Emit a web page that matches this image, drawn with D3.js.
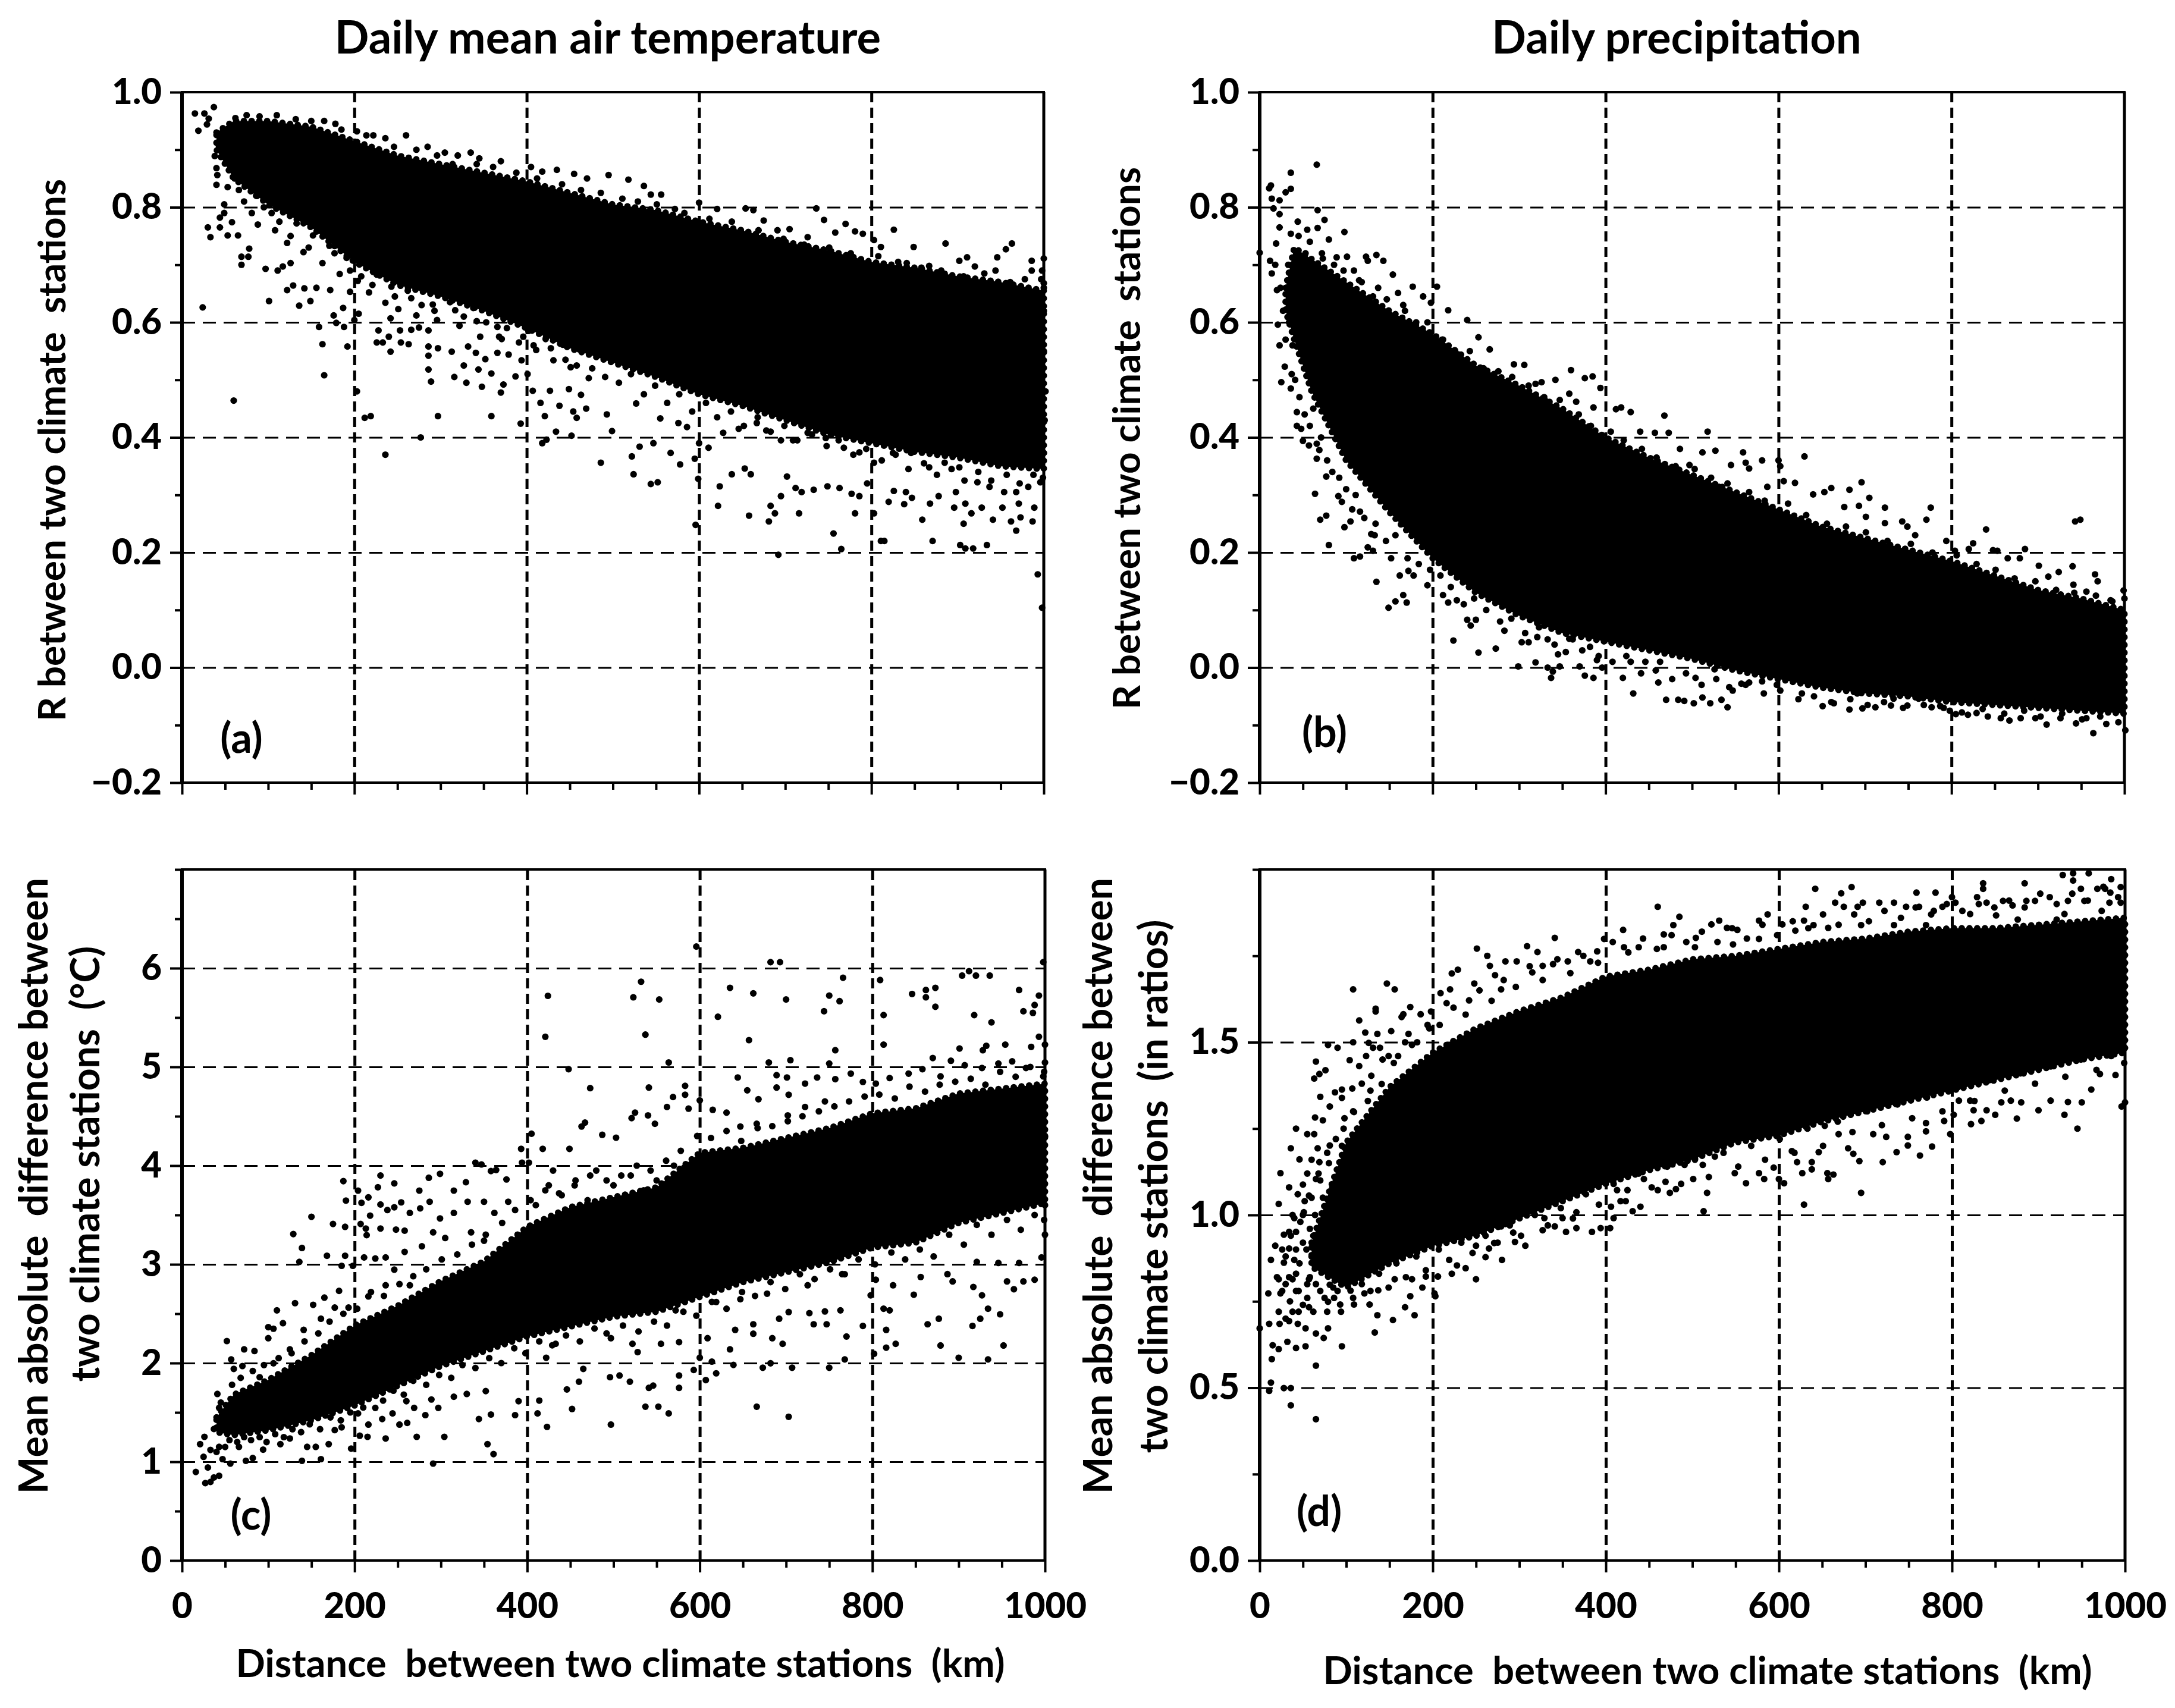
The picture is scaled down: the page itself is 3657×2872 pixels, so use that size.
<!DOCTYPE html>
<html lang="en">
<head>
<meta charset="UTF-8">
<title>Correlation and difference between climate stations</title>
<script src="https://d3js.org/d3.v7.min.js"></script>
<style>
  html, body { margin: 0; background: #fff; }
  text { font-family: Lato, "Open Sans", sans-serif; font-weight: 700; fill: #000; white-space: pre; }
  .domain { display: none; }
  .tick line { stroke: #000; stroke-width: 4px; }
  .tick text { font-size: 60px; font-weight: 900; }
  .grid-x .tick line { stroke-width: 5px; stroke-dasharray: 17 9; }
  .grid-y .tick line { stroke-width: 3px; stroke-dasharray: 22 13; }
</style>
</head>
<body>
<svg id="chart" width="3657" height="2872"></svg>
<script>
// distance ticks shared by all panels
const distMajor = [0, 200, 400, 600, 800, 1000];
const distMinor = [50, 100, 150, 250, 300, 350, 450, 500, 550, 650, 700, 750, 850, 900, 950];
const distGrid = [200, 400, 600, 800];

const rMajor = [-0.2, 0, 0.2, 0.4, 0.6, 0.8, 1];
const rMinor = [-0.1, 0.1, 0.3, 0.5, 0.7, 0.9];
const rGrid = [0, 0.2, 0.4, 0.6, 0.8];
const tempMajor = [0, 1, 2, 3, 4, 5, 6];
const tempMinor = [0.5, 1.5, 2.5, 3.5, 4.5, 5.5, 6.5, 7];
const tempGrid = [1, 2, 3, 4, 5, 6];
const ratioMajor = [0, 0.5, 1, 1.5];
const ratioMinor = [0.25, 0.75, 1.25, 1.75, 2];
const ratioGrid = [0.5, 1, 1.5];

// The clouds hold thousands of overlapping dots. Where they merge into solid black
// the cloud is kept as a band (distance, lower edge, upper edge);
// the dots listed after each band are the separate ones read around and outside it.
const coreDistA = [40, 60, 100, 150, 200, 250, 300, 350, 400, 450, 500, 550, 600, 650, 700, 750, 800, 850, 900, 950, 1000];
const coreLowA = [0.90, 0.85, 0.805, 0.765, 0.705, 0.665, 0.645, 0.62, 0.59, 0.555, 0.53, 0.505, 0.475, 0.455, 0.43, 0.405, 0.39, 0.375, 0.365, 0.35, 0.345];
const coreHighA = [0.93, 0.95, 0.95, 0.94, 0.915, 0.89, 0.875, 0.86, 0.845, 0.825, 0.805, 0.795, 0.775, 0.76, 0.74, 0.725, 0.705, 0.695, 0.68, 0.67, 0.655];
const dotsA = [[15,.963],[19,.933],[26,.963],[37,.974],[31,.954],[29,.944],[24,.626],[60,.464],[165,.508],[163,.562],[159,.592],[192,.558],[203,.48],[212,.434],[219,.437],[277,.4],[236,.37],[297,.437],[359,.437],[393,.424],[418,.39],[423,.396],[434,.41],[452,.403],[101,.637],[136,.629],[149,.637],[122,.656],[129,.664],[142,.659],[156,.66],[172,.656],[195,.653],[97,.693],[111,.69],[117,.697],[126,.703],[69,.7],[69,.714],[77,.714],[78,.728],[30,.765],[33,.748],[44,.765],[53,.751],[65,.751],[58,.774],[44,.782],[49,.79],[49,.805],[40,.839],[53,.835],[38,.889],[40,.868],[41,.856],[176,.612],[179,.599],[188,.592],[200,.604],[187,.625],[205,.615],[228,.586],[226,.565],[233,.565],[242,.549],[240,.575],[254,.565],[263,.562],[253,.586],[266,.587],[275,.591],[242,.607],[286,.586],[286,.558],[286,.542],[286,.518],[289,.497],[316,.505],[330,.495],[327,.525],[344,.518],[359,.511],[348,.488],[370,.478],[373,.492],[387,.506],[297,.555],[313,.549],[332,.558],[341,.547],[352,.536],[366,.547],[379,.544],[394,.534],[401,.51],[407,.481],[416,.46],[421,.437],[427,.481],[438,.455],[454,.445],[458,.434],[449,.484],[463,.474],[469,.45],
[108,.76],[122,.738],[133,.772],[141,.722],[152,.751],[163,.703],[171,.733],[183,.684],[191,.712],[204,.672],[212,.704],[217,.652],[226,.683],[236,.634],[243,.662],[251,.623],[257,.671],[266,.642],[272,.612],[281,.662],[291,.631],[296,.604],[306,.652],[317,.621],[322,.594],[331,.641],[342,.602],[346,.575],[356,.623],[366,.592],[371,.571],[382,.603],[391,.565],[402,.585],[411,.552],[422,.571],[431,.534],[442,.561],[451,.522],[461,.553],[472,.503],
[62,.955],[75,.96],[90,.958],[110,.96],[132,.953],[150,.95],[165,.95],[178,.945],[203,.932],[222,.925],[236,.92],[260,.925],[285,.905],[305,.895],[320,.89],[335,.895],[345,.885],[370,.88],[405,.87],[418,.862],[435,.865],[455,.858],[470,.85],[495,.856],[518,.848],[536,.837],[556,.822],[600,.808],[654,.798],[736,.798],[745,.778],[770,.771],[781,.758],[826,.761],[849,.731],[886,.737],[963,.737],[956,.727],[946,.713],[1000,.711],[986,.707],[911,.713],[902,.707],[920,.697],[944,.69],[867,.698],[841,.703],[803,.743],[811,.731],[790,.754],[758,.756],[726,.748],[705,.762],[691,.76],[675,.777],[663,.795],[621,.797],[572,.797],[544,.822],
[486,.356],[522,.367],[531,.384],[524,.336],[544,.319],[552,.322],[547,.39],[567,.373],[578,.353],[595,.363],[599,.328],[596,.248],[622,.281],[624,.315],[638,.336],[653,.346],[660,.336],[658,.264],[681,.254],[683,.281],[688,.268],[692,.196],[695,.298],[702,.332],[716,.268],[712,.312],[719,.305],[733,.309],[756,.233],[765,.206],[781,.268],[749,.315],[763,.312],[777,.302],[786,.298],[795,.32],[803,.268],[811,.22],[815,.22],[820,.288],[826,.307],[840,.305],[847,.295],[838,.284],[859,.257],[868,.285],[871,.22],[878,.298],[896,.278],[898,.305],[907,.25],[903,.213],[909,.207],[918,.207],[934,.213],[916,.268],[909,.285],[928,.278],[941,.257],[952,.278],[962,.254],[968,.238],[973,.261],[987,.254],[989,.278],[971,.285],[993,.162],[998,.104],
[499,.411],[493,.44],[527,.459],[555,.433],[576,.425],[586,.418],[600,.39],[611,.382],[628,.408],[646,.415],[667,.425],[678,.412],[695,.395],[709,.395],[726,.408],[747,.399],[768,.382],[786,.374],[803,.356],[825,.373],[846,.373],[867,.348],[885,.356],[902,.348],[923,.322],[937,.314],[954,.305],[968,.305],[982,.314],[996,.322],[1000,.373],[1000,.55],[1000,.62],[1002,.48],[1001,.43],[1000,.66],[998,.69],[986,.69],[1000,.668],[971,.643],[937,.647],[902,.664],[877,.656],[853,.664],[832,.69],
[48,.92],[52,.89],[57,.87],[43,.905],[66,.83],[72,.81],[81,.79],[88,.77],[95,.8],[74,.86],[61,.85],[86,.82],[104,.79],[113,.775],[126,.75],[139,.785],[147,.73],[158,.775],[169,.755],[177,.72],[186,.74],[195,.69],[208,.68],[221,.665],[231,.69],[247,.645],[262,.655],[278,.63],[293,.62],[311,.635],[327,.61],[338,.625],[353,.6],[368,.575],[377,.59],[396,.575],[408,.56],[428,.555],[445,.535],[458,.525],[476,.52],[491,.505],[507,.495],[521,.51],[536,.475],[549,.49],[563,.46],[577,.475],[592,.445],[608,.46],[621,.435],[637,.445],[652,.42],[668,.435],[683,.41],[699,.42],[714,.395],[731,.405],[748,.385],[762,.395],[779,.37],[794,.38],[812,.36],[828,.37],[843,.345],[861,.355],[876,.335],[893,.345],[908,.325],[924,.34],[939,.325],[957,.335],[972,.32],[988,.335],[999,.33],
[185,.935],[214,.925],[246,.905],[272,.9],[296,.89],[314,.875],[342,.875],[361,.87],[388,.86],[412,.85],[441,.84],[463,.83],[486,.825],[511,.815],[529,.81],[551,.805],[583,.79],[612,.78],[638,.775],[669,.76],[698,.745],[722,.735],[751,.73],[776,.72],[808,.715],[831,.705],[858,.695],[881,.69],[907,.68],[931,.685],[961,.67],[978,.675],[997,.675]];

const coreDistB = [30, 40, 60, 100, 150, 200, 250, 300, 350, 400, 450, 500, 550, 600, 650, 700, 750, 800, 850, 900, 950, 1000];
const coreLowB = [0.62, 0.57, 0.48, 0.36, 0.27, 0.19, 0.13, 0.09, 0.06, 0.045, 0.03, 0.015, -0.005, -0.02, -0.035, -0.045, -0.05, -0.06, -0.065, -0.07, -0.075, -0.08];
const coreHighB = [0.66, 0.73, 0.71, 0.67, 0.62, 0.58, 0.525, 0.49, 0.45, 0.40, 0.365, 0.335, 0.305, 0.275, 0.245, 0.225, 0.205, 0.185, 0.16, 0.135, 0.12, 0.10];
const dotsB = [[0,.721],[12,.707],[13,.838],[11,.833],[14,.815],[23,.812],[30,.826],[36,.832],[36,.86],[66,.874],[16,.798],[23,.788],[67,.795],[75,.778],[67,.764],[98,.757],[80,.744],[44,.775],[55,.761],[36,.754],[23,.765],[19,.737],[14,.685],[20,.656],[21,.596],[23,.56],[30,.57],[25,.496],[29,.523],[36,.485],[37,.51],[43,.444],[43,.42],[48,.415],[50,.394],[57,.386],[66,.389],[66,.363],[69,.378],[77,.332],[64,.302],[70,.257],[77,.264],[80,.213],[91,.298],[95,.288],[98,.244],[105,.254],[107,.275],[116,.271],[109,.19],[116,.193],[125,.209],[129,.232],[135,.149],[133,.23],[131,.203],[149,.104],[157,.115],[166,.126],[170,.113],[162,.16],[172,.168],[152,.19],[178,.16],[194,.143],[224,.047],[253,.026],[273,.033],[218,.113],[228,.117],[240,.083],[244,.073],[250,.083],[212,.126],[283,.064],[299,.002],[303,.044],[319,.009],[311,.044],[333,0],[337,-.018],[339,-.007],[347,.002],[345,.023],[354,.027],[370,.002],[376,-.014],[386,-.018],[390,.013],[396,0],[362,.049],[382,.036],[333,.049],[321,.053],
[123,.714],[125,.707],[135,.717],[143,.707],[154,.683],[101,.714],[89,.713],[177,.662],[205,.662],[189,.645],[198,.634],[218,.621],[240,.604],[253,.574],[266,.553],[294,.527],[306,.526],[326,.496],[342,.5],[360,.517],[376,.503],[385,.506],[394,.486],[358,.476],[366,.462],[319,.493],[271,.51],[283,.493],[343,.449],[386,.452],[331,.463],[230,.544],[212,.57],[160,.651],[166,.63],[137,.66],[109,.69],[115,.673],[73,.711],[53,.72],
[412,.449],[418,.452],[429,.444],[468,.438],[473,.408],[518,.41],[457,.408],[440,.41],[486,.38],[527,.377],[512,.374],[559,.374],[562,.356],[600,.36],[602,.35],[630,.367],[581,.36],[545,.352],[566,.346],[661,.312],[696,.322],[682,.309],[705,.295],[693,.281],[723,.278],[776,.278],[723,.251],[771,.257],[743,.254],[701,.262],[676,.279],[840,.24],[943,.254],[949,.257],[794,.22],[825,.216],[885,.206],[848,.204],[820,.206],[853,.203],[940,.176],[901,.177],[879,.19],[966,.162],[969,.15],[924,.166],[865,.19],[999,.134],[984,.117],[956,.132],[941,.144],[912,.158],[640,.301],[606,.324],[619,.321],[587,.314],[531,.314],[497,.352],[653,.305],[749,.245],[758,.23],[804,.203],
[432,-.045],[461,-.026],[470,-.056],[484,-.056],[491,-.058],[502,-.062],[512,-.052],[521,-.062],[534,-.056],[541,-.069],[543,-.034],[557,-.028],[566,-.026],[420,-.018],[504,-.018],[598,-.03],[627,-.045],[651,-.067],[664,-.062],[682,-.073],[697,-.071],[712,-.069],[730,-.066],[749,-.066],[777,-.069],[798,-.075],[805,-.081],[819,-.082],[842,-.085],[857,-.088],[867,-.092],[880,-.088],[910,-.099],[944,-.097],[964,-.114],[979,-.098],[1001,-.109],[956,-.088],[926,-.088],[897,-.088],[829,-.079],[787,-.067],[762,-.054],[733,-.054],[691,-.045],[669,-.037],[615,-.011],[581,-.024],[526,-.003],[463,.01],[446,.01],[429,.01],
[18,.7],[24,.66],[27,.62],[31,.66],[34,.6],[38,.56],[33,.7],[41,.5],[46,.47],[52,.44],[58,.42],[62,.45],[71,.4],[78,.36],[84,.34],[92,.33],[100,.31],[111,.3],[121,.26],[134,.25],[146,.22],[157,.23],[171,.19],[184,.18],[197,.17],[209,.16],[221,.14],[236,.11],[248,.12],[262,.1],[278,.08],[291,.085],[307,.06],[323,.07],[341,.04],[358,.05],[373,.03],[392,.02],[408,.01],[424,.02],[441,-.01],[458,-.005],[477,-.02],[493,-.01],[511,-.03],[528,-.02],[547,-.04],[562,-.03],[583,-.045],[602,-.04],[623,-.055],[641,-.05],[661,-.06],[683,-.055],[703,-.065],[722,-.06],[744,-.07],[768,-.065],[791,-.07],[812,-.078],[836,-.072],[861,-.08],[884,-.075],[903,-.085],[928,-.08],[951,-.09],[972,-.085],[993,-.095],
[45,.75],[58,.74],[72,.72],[86,.7],[97,.69],[118,.67],[131,.645],[147,.64],[168,.62],[181,.6],[194,.6],[211,.57],[226,.55],[243,.55],[259,.52],[276,.515],[292,.505],[311,.49],[329,.47],[347,.465],[369,.44],[383,.42],[406,.41],[421,.395],[442,.38],[459,.365],[481,.35],[503,.345],[522,.33],[541,.32],[566,.305],[584,.29],[611,.285],[632,.265],[656,.25],[678,.245],[701,.235],[726,.22],[753,.215],[778,.2],[806,.195],[829,.18],[851,.17],[873,.155],[897,.15],[921,.135],[942,.13],[967,.125],[986,.115],[1000,.12]];

const coreDistC = [40, 60, 100, 150, 200, 250, 300, 350, 400, 450, 500, 550, 600, 650, 700, 750, 800, 850, 900, 950, 1000];
const coreLowC = [1.3, 1.27, 1.32, 1.42, 1.57, 1.77, 1.97, 2.12, 2.27, 2.37, 2.47, 2.52, 2.67, 2.82, 2.92, 3.02, 3.17, 3.22, 3.42, 3.52, 3.62];
const coreHighC = [1.45, 1.68, 1.83, 2.08, 2.38, 2.58, 2.83, 3.03, 3.38, 3.58, 3.68, 3.78, 4.13, 4.18, 4.28, 4.38, 4.53, 4.58, 4.73, 4.78, 4.83];
const dotsC = [[16,.897],[27,.784],[33,.796],[37,.841],[43,.858],[30,.942],[21,1.179],[26,1.253],[37,1.332],[41,1.687],[52,2.223],[57,2.037],[60,1.941],[70,1.97],[72,2.139],[84,2.122],[110,2.534],[100,2.252],[100,2.364],[106,2.348],[117,2.404],[129,3.307],[139,3.166],[136,3.025],[131,2.607],[150,3.482],[152,2.59],[175,3.409],[187,3.843],[189,3.38],[190,3.646],[168,3.087],[185,2.985],[198,2.985],[189,3.087],[182,2.731],[165,2.663],[204,3.747],[208,3.623],[216,3.679],[207,3.409],[213,3.363],[218,3.493],[214,3.296],[211,3.07],[230,3.9],[227,3.781],[246,3.82],[230,3.606],[230,3.363],[238,3.55],[246,3.578],[254,3.628],[248,3.352],[258,3.341],[236,3.07],[224,3.059],[246,2.946],[258,3.126],[275,3.747],[286,3.877],[299,3.917],[276,3.567],[264,3.521],[287,3.634],[299,3.465],[291,3.324],[278,3.183],[305,3.267],[315,3.747],[329,3.832],[340,4.03],[347,4.012],[315,3.521],[335,3.324],[358,3.945],[364,3.956],[350,3.634],[331,3.634],[376,3.86],[393,4.17],[405,4.323],[394,4.03],[402,4.03],[378,3.634],[362,3.521],[350,3.239],
[161,1.027],[139,1.01],[145,1.151],[155,1.151],[170,1.179],[196,1.134],[206,1.264],[215,1.253],[236,1.236],[252,1.377],[261,1.394],[272,1.253],[282,1.473],[291,.982],[304,1.253],[344,1.433],[354,1.179],[361,1.078],[386,1.473],[390,1.614],[358,1.479],[352,1.716],[330,1.687],[315,1.659],[297,1.546],[289,1.631],[269,1.546],[260,1.614],[244,1.49],[232,1.433],[216,1.377],[204,1.49],[224,1.546],[185,1.349],[177,1.321],[125,1.236],[114,1.179],[94,1.123],[82,1.038],[74,1.01],[56,.982],[47,1.027],[43,1.151],[66,1.151],[47,1.32],[54,1.49],[43,1.546],[66,1.659],[78,1.716],[90,1.857],[106,1.998],[125,2.139],[141,2.336],[161,2.449],[177,2.562],[193,2.562],[216,2.675],[236,2.788],[264,2.788],
[424,5.72],[421,5.305],[448,4.977],[473,4.785],[532,5.863],[523,5.705],[553,5.683],[537,5.327],[564,5.045],[541,4.791],[596,6.219],[682,6.061],[693,6.061],[635,5.801],[662,5.745],[621,5.508],[700,5.683],[657,5.271],[680,5.045],[705,5.068],[744,5.564],[750,5.722],[762,5.666],[766,5.903],[757,5.169],[750,5.034],[809,5.88],[813,5.525],[813,5.226],[846,5.739],[862,5.779],[862,5.705],[873,5.801],[873,5.609],[904,5.925],[912,5.97],[920,5.925],[936,5.925],[918,5.525],[938,5.451],[970,5.779],[975,5.564],[986,5.547],[988,5.627],[993,5.722],[998,6.061],[993,5.305],[1000,5.226],[928,5.169],[932,5.214],[901,5.186],[870,5.09],[954,5.226],[984,5.203],
[583,4.808],[583,4.718],[569,4.695],[562,4.594],[587,4.577],[600,4.661],[644,4.893],[655,4.763],[668,4.673],[689,4.916],[701,4.893],[689,4.791],[703,4.718],[722,4.831],[736,4.893],[757,4.876],[775,4.932],[789,4.848],[804,4.831],[820,4.887],[842,4.932],[858,4.977],[879,4.904],[891,5.062],[907,5.017],[927,4.989],[946,5.034],[962,5.056],[978,4.989],[998,4.904],[1000,5.045],[521,4.481],[525,4.537],[540,4.509],[548,4.424],[467,4.436],[463,4.396],[487,4.312],[503,4.283],[449,4.17],[418,4.17],[615,4.565],[631,4.537],[647,4.396],[666,4.424],[702,4.509],[722,4.594],[745,4.65],
[423,1.354],[497,1.377],[537,1.558],[552,1.558],[564,1.49],[666,1.558],[703,1.456],[414,1.62],[412,1.49],[452,1.535],[446,1.733],[460,1.811],[496,1.857],[507,1.874],[519,1.811],[541,1.749],[546,1.772],[576,1.749],[576,1.874],[593,1.93],[607,1.828],[619,1.896],[600,2.054],[614,2.015],[639,1.981],[673,1.953],[682,1.998],[707,1.953],[750,1.953],[768,2.037],[802,2.094],[900,2.054],[934,2.037],[952,2.178],[827,2.195],[816,2.156],[816,2.336],[879,2.178],[864,2.393],[877,2.449],[916,2.376],[925,2.449],[934,2.551],[948,2.494],[820,2.534],[813,2.551],[798,2.686],[789,2.376],[770,2.269],[745,2.523],[763,2.534],[747,2.393],[727,2.506],[732,2.393],[703,2.517],[692,2.449],[684,2.252],[696,2.195],[662,2.393],[662,2.297],[641,2.336],[635,2.139],[609,2.252],[576,2.212],[555,2.195],[528,2.111],[522,2.195],[497,2.252],[465,1.941],[422,2.054],[433,2.195],[848,2.692],[893,2.827],[917,2.771],[927,2.686],[964,2.748],[975,2.827],[988,2.844],[956,2.827],[946,3.014],[996,3.07],[970,3.014],[921,3.025],[887,2.901],[856,2.872],[824,2.788],[804,2.844],[765,2.901],[725,2.788],[678,2.703],[647,2.647],[619,2.619],[572,2.534],[1000,4.3],[1000,3.6],[1000,3.3],[998,3.85],
[410,3.6],[425,3.8],[440,3.7],[430,3.95],[455,3.8],[470,3.65],[480,3.95],[500,3.8],[510,3.6],[520,3.9],[535,3.75],[550,3.85],[560,3.7],[570,4.0],[585,3.9],[590,3.75],
[25,1.05],[33,1.12],[40,1.1],[50,1.15],[55,1.22],[64,1.2],[72,1.25],[80,1.22],[90,1.25],[98,1.2],[108,1.28],[118,1.25],[128,1.33],[138,1.3],[148,1.38],[160,1.33],[172,1.45],[184,1.42],[195,1.5],[210,1.55],[222,1.68],[233,1.62],[245,1.72],[257,1.68],[268,1.82],[283,1.78],[298,1.88],[312,1.85],[325,1.98],[340,1.95],[356,2.05],[370,2],[385,2.15],[398,2.1],[414,2.22],[429,2.18],[445,2.28],[461,2.22],[478,2.35],[492,2.3],[511,2.38],[529,2.32],[547,2.42],[562,2.38],[581,2.52],[596,2.48],[614,2.62],[631,2.55],[649,2.72],[664,2.68],[682,2.82],[699,2.75],[716,2.9],[733,2.85],[751,2.95],[768,2.9],[784,3.05],[803,3],[822,3.12],[838,3.05],[855,3.15],[871,3.08],[889,3.3],[906,3.2],[921,3.4],[938,3.3],[956,3.45],[972,3.35],[988,3.5],[999,3.45],
[45,1.6],[58,1.78],[68,1.85],[82,1.92],[95,1.98],[112,2.05],[127,2.1],[142,2.22],[158,2.3],[171,2.42],[187,2.5],[203,2.55],[219,2.72],[234,2.68],[252,2.8],[268,2.88],[283,2.95],[301,3.05],[319,3.1],[336,3.2],[352,3.3],[371,3.42],[386,3.55],[404,3.65],[421,3.75],[437,3.72],[456,3.85],[473,3.9],[492,3.85],[509,3.9],[527,4],[543,3.95],[561,4.05],[578,4.15],[597,4.3],[613,4.28],[631,4.35],[648,4.25],[667,4.38],[684,4.4],[702,4.45],[719,4.5],[738,4.55],[756,4.6],[773,4.65],[791,4.7],[808,4.72],[826,4.68],[843,4.8],[861,4.75],[878,4.82],[896,4.85],[914,4.88],[931,4.82],[948,4.95],[966,4.9],[983,5],[999,4.95]];

const coreDistD = [60, 100, 150, 200, 250, 300, 350, 400, 450, 500, 550, 600, 650, 700, 750, 800, 850, 900, 950, 1000];
const coreLowD = [0.85, 0.79, 0.86, 0.91, 0.94, 0.99, 1.04, 1.09, 1.13, 1.16, 1.21, 1.23, 1.27, 1.3, 1.33, 1.36, 1.39, 1.42, 1.45, 1.47];
const coreHighD = [0.92, 1.21, 1.37, 1.47, 1.54, 1.59, 1.63, 1.69, 1.71, 1.74, 1.75, 1.77, 1.79, 1.8, 1.82, 1.83, 1.83, 1.84, 1.85, 1.86];
const dotsD = [[0,.672],[11,.685],[15,.623],[14,.583],[13,.515],[11,.491],[28,.499],[36,.499],[36,.449],[65,.409],[65,.564],[24,1.121],[34,1.08],[22,1.032],[36,1.193],[42,1.25],[46,1.161],[55,1.234],[63,1.234],[67,1.193],[64,1.282],[70,1.342],[63,1.395],[65,1.444],[76,1.419],[69,1.408],[79,1.492],[90,1.484],[108,1.653],[104,1.448],[108,1.5],[115,1.563],[134,1.597],[134,1.589],[147,1.67],[156,1.653],[122,1.528],[126,1.498],[136,1.524],[131,1.484],[139,1.484],[115,1.431],[123,1.46],[95,1.363],[87,1.355],[81,1.314],[73,1.274],[95,1.339],[107,1.366],[129,1.403],[149,1.46],[152,1.532],[164,1.573],[166,1.581],[174,1.602],[172,1.524],[186,1.581],[198,1.589],[209,1.642],[220,1.653],[229,1.71],[222,1.699],[216,1.613],[251,1.771],[263,1.75],[266,1.721],[284,1.734],[272,1.694],[248,1.67],[242,1.621],[279,1.653],[297,1.734],[309,1.778],[321,1.761],[341,1.802],[327,1.721],[315,1.702],[339,1.726],[368,1.761],[356,1.734],[382,1.734],[398,1.799],[390,1.763],
[95,.62],[74,.644],[79,.672],[65,.657],[53,.62],[42,.615],[53,.672],[32,.633],[22,.612],[23,.685],[34,.693],[44,.685],[10,.773],[24,.773],[13,.87],[18,.911],[22,.814],[38,.814],[57,.733],[79,.749],[93,.741],[109,.741],[127,.741],[133,.66],[136,.71],[154,.696],[168,.733],[179,.71],[174,.765],[188,.79],[202,.773],[203,.765],[192,.822],[206,.822],[222,.83],[250,.814],[238,.846],[228,.854],[280,.87],[261,.878],[250,.911],[271,.919],[265,.903],[293,.949],[295,.922],[307,.911],[279,.967],[327,.956],[341,.967],[354,.951],[366,.962],[384,.951],[394,.962],[329,.991],[350,.991],[366,1.008],[176,.814],[156,.814],[137,.782],[121,.773],[105,.781],[81,.798],[57,.814],[42,.83],[28,.862],[34,.903],[42,.951],[34,.951],[28,.943],[40,.991],[51,1.008],[57,1.056],[50,1.088],[65,1.104],[69,1.153],[81,1.201],[97,1.25],[109,1.298],[125,1.33],[141,1.379],[160,1.46],[176,1.492],[196,1.54],
[45,.78],[55,.8],[60,.88],[70,.95],[50,.92],[75,.84],[85,.9],[90,.78],[40,.87],[50,1],[60,1.05],[70,1.1],[80,1.15],[90,1],[95,1.2],[97,.9],[30,.8],[35,.75],[45,.72],[55,.76],[65,.8],[75,.76],[85,.79],[92,.85],[82,1.02],[72,.98],[62,.94],[88,1.1],
[460,1.892],[485,1.863],[478,1.839],[467,1.812],[420,1.825],[504,1.802],[531,1.852],[522,1.841],[540,1.831],[552,1.825],[577,1.852],[587,1.87],[604,1.841],[642,1.944],[631,1.892],[665,1.904],[672,1.931],[684,1.949],[629,1.852],[640,1.839],[675,1.892],[691,1.892],[697,1.904],[716,1.904],[733,1.904],[747,1.892],[759,1.933],[781,1.933],[762,1.892],[779,1.88],[789,1.892],[800,1.92],[804,1.904],[829,1.92],[836,1.96],[836,1.944],[840,1.904],[821,1.871],[859,1.909],[870,1.896],[884,1.96],[886,1.909],[913,1.92],[928,1.984],[940,1.989],[940,1.968],[958,1.989],[949,1.944],[968,1.944],[984,1.972],[977,1.944],[983,1.933],[995,1.949],[934,1.909],[953,1.909],[982,1.904],[995,1.904],[896,1.909],[930,1.871],[973,1.88],[921,1.855],[876,1.855],[851,1.867],[770,1.839],[733,1.839],[695,1.839],[657,1.831],[619,1.823],[577,1.799],[547,1.783],[503,1.775],[467,1.775],[438,1.775],[421,1.775],
[405,.962],[409,.991],[417,1.04],[431,1.011],[440,1.024],[460,1.072],[474,1.064],[481,1.075],[513,1.011],[517,1.064],[501,1.104],[562,1.092],[577,1.121],[583,1.104],[606,1.092],[600,1.104],[629,1.03],[627,1.121],[657,1.104],[663,1.117],[656,1.121],[695,1.064],[720,1.153],[693,1.156],[736,1.182],[749,1.201],[763,1.172],[777,1.198],[798,1.234],[791,1.272],[802,1.29],[822,1.263],[834,1.272],[850,1.29],[875,1.279],[900,1.303],[930,1.29],[945,1.25],[996,1.314],[1000,1.326],[914,1.331],[934,1.327],[950,1.326],[961,1.363],[989,1.405],[971,1.408],[857,1.326],[868,1.331],[880,1.326],[825,1.303],[840,1.303],[821,1.331],[808,1.331],[770,1.242],[770,1.266],[749,1.226],[724,1.226],[709,1.234],[686,1.177],[680,1.193],[669,1.234],[653,1.258],[646,1.182],[638,1.153],[638,1.132],[621,1.153],[615,1.185],[594,1.137],[549,1.121],[526,1.169],[512,1.145],[491,1.145],[469,1.096],[444,1.104],[425,1.072],[406,1.024],[413,1.072],
[22,.72],[26,.78],[30,.7],[34,.82],[38,.72],[42,.78],[46,.86],[50,.74],[54,.9],[58,.82],[62,.72],[66,.86],[70,.78],[74,.92],[78,.72],[82,.84],[86,.76],[90,.96],[94,.72],[98,.84],[30,.88],[36,.94],[42,.9],[47,.98],[52,1.04],[58,.96],[64,1],[68,1.12],[73,1.05],[78,1.18],[84,1.08],[88,1.22],[93,1.13],[98,1.28],[55,1.12],[60,1.16],[44,1.06],[38,1],[26,.9],[20,.82],
[108,.76],[118,.8],[128,.78],[138,.83],[149,.79],[158,.86],[169,.82],[181,.88],[192,.84],[207,.9],[219,.87],[233,.92],[246,.89],[261,.94],[275,.92],[289,.97],[302,.94],[318,1],[333,.97],[348,1.02],[362,.99],[377,1.06],[392,1.03],[409,1.09],[423,1.04],[438,1.12],[453,1.08],[471,1.14],[487,1.09],[503,1.16],[519,1.11],[536,1.18],[553,1.14],[568,1.2],[584,1.16],[601,1.22],[618,1.18],[633,1.25],[651,1.2],[668,1.27],[685,1.24],[702,1.3],[719,1.26],[737,1.32],[754,1.28],[771,1.34],[789,1.3],[807,1.37],[826,1.33],[843,1.39],[861,1.36],[879,1.41],[896,1.38],[914,1.43],[931,1.4],[949,1.45],[967,1.42],[984,1.46],[999,1.44],
[108,1.3],[118,1.38],[128,1.36],[142,1.45],[155,1.44],[168,1.5],[182,1.5],[194,1.55],[208,1.55],[224,1.6],[238,1.58],[254,1.65],[268,1.62],[282,1.68],[296,1.66],[312,1.72],[327,1.68],[344,1.74],[359,1.7],[374,1.75],[391,1.73],[408,1.79],[426,1.76],[443,1.8],[459,1.77],[476,1.81],[493,1.79],[511,1.82],[529,1.79],[546,1.83],[563,1.8],[581,1.84],[598,1.81],[616,1.85],[634,1.83],[651,1.87],[669,1.84],[687,1.87],[704,1.85],[722,1.88],[741,1.86],[758,1.89],[776,1.87],[794,1.9],[812,1.88],[831,1.9],[849,1.89],[866,1.91],[884,1.89],[902,1.93],[921,1.9],[939,1.93],[957,1.91],[975,1.95],[992,1.92]];

const svg = d3.select("#chart");

function drawPanel(p) {
    const x = d3.scaleLinear().domain([0, 1000]).range([p.left, p.right]);
    const y = d3.scaleLinear().domain(p.yDomain).range([p.bottom, p.top]);
    const g = svg.append("g");
    const w = p.right - p.left;
    const h = p.bottom - p.top;

    // dashed grid first so the dots cover it
    g.append("g").attr("class", "grid-y")
        .attr("transform", `translate(${p.left},0)`)
        .call(d3.axisLeft(y).tickValues(p.yGrid).tickSize(-w).tickFormat(""));
    g.append("g").attr("class", "grid-x")
        .attr("transform", `translate(0,${p.bottom})`)
        .call(d3.axisBottom(x).tickValues(distGrid).tickSize(-h).tickFormat(""));

    // solid part of the cloud, round dashes on the outline give it a dotted rim
    const core = p.coreDist.map((d, i) => ({ d: d, lo: p.coreLow[i], hi: p.coreHigh[i] }));
    g.append("path")
        .datum(core)
        .attr("fill", "#000")
        .attr("stroke", "#000")
        .attr("stroke-width", 11)
        .attr("stroke-linecap", "round")
        .attr("stroke-dasharray", "0 13")
        .attr("d", d3.area().x(d => x(d.d)).y0(d => y(d.lo)).y1(d => y(d.hi)));

    g.append("g").selectAll("circle")
        .data(p.dots)
        .enter().append("circle")
        .attr("cx", d => x(d[0]))
        .attr("cy", d => y(d[1]))
        .attr("r", 5.6)
        .attr("fill", "#000");

    // frame
    g.append("rect")
        .attr("x", p.left).attr("y", p.top)
        .attr("width", w).attr("height", h)
        .attr("fill", "none").attr("stroke", "#000").attr("stroke-width", 4);
    g.append("line")
        .attr("x1", p.left).attr("x2", p.left)
        .attr("y1", p.top).attr("y2", p.bottom)
        .attr("stroke", "#000").attr("stroke-width", 6);
    g.append("line")
        .attr("x1", p.right).attr("x2", p.right)
        .attr("y1", p.top).attr("y2", p.bottom)
        .attr("stroke", "#000").attr("stroke-width", 5);

    // ticks and labels
    g.append("g").attr("transform", `translate(${p.left},0)`)
        .call(d3.axisLeft(y).tickValues(p.yMajor).tickSize(20).tickPadding(14).tickFormat(d3.format(p.yFormat)));
    g.append("g").attr("transform", `translate(${p.left},0)`)
        .call(d3.axisLeft(y).tickValues(p.yMinor).tickSize(12).tickFormat(""));
    g.append("g").attr("transform", `translate(0,${p.bottom})`)
        .call(d3.axisBottom(x).tickValues(distMajor).tickSize(20).tickPadding(34).tickFormat(p.showX ? d3.format("d") : ""));
    g.append("g").attr("transform", `translate(0,${p.bottom})`)
        .call(d3.axisBottom(x).tickValues(distMinor).tickSize(12).tickFormat(""));

    g.append("text")
        .attr("x", p.tagX).attr("y", p.tagY)
        .attr("text-anchor", "middle")
        .style("font-size", "70px")
        .text(p.tag);

    p.yLabels.forEach(l => {
        g.append("text")
            .attr("transform", `translate(${l.x},${l.y}) rotate(-90)`)
            .attr("text-anchor", "middle")
            .style("font-size", l.size + "px")
            .text(l.text);
    });
    if (p.xLabel) {
        g.append("text")
            .attr("x", p.xLabel.x).attr("y", p.xLabel.y)
            .attr("text-anchor", "middle")
            .style("font-size", "65px")
            .text("Distance  between two climate stations  (km)");
    }
}

drawPanel({
    left: 306, right: 1755, top: 155, bottom: 1316, yDomain: [-0.2, 1], yFormat: ".1f",
    yMajor: rMajor, yMinor: rMinor, yGrid: rGrid, showX: false,
    coreDist: coreDistA, coreLow: coreLowA, coreHigh: coreHighA, dots: dotsA,
    tag: "(a)", tagX: 406, tagY: 1266,
    yLabels: [{ x: 110, y: 757, size: 64, text: "R between two climate  stations" }]
});
drawPanel({
    left: 2118, right: 3572, top: 155, bottom: 1316, yDomain: [-0.2, 1], yFormat: ".1f",
    yMajor: rMajor, yMinor: rMinor, yGrid: rGrid, showX: false,
    coreDist: coreDistB, coreLow: coreLowB, coreHigh: coreHighB, dots: dotsB,
    tag: "(b)", tagX: 2227, tagY: 1256,
    yLabels: [{ x: 1917, y: 737, size: 64, text: "R between two climate  stations" }]
});
drawPanel({
    left: 306, right: 1757, top: 1462, bottom: 2624, yDomain: [0, 7], yFormat: "d",
    yMajor: tempMajor, yMinor: tempMinor, yGrid: tempGrid, showX: true,
    coreDist: coreDistC, coreLow: coreLowC, coreHigh: coreHighC, dots: dotsC,
    tag: "(c)", tagX: 422, tagY: 2572,
    yLabels: [
        { x: 80, y: 1994, size: 66, text: "Mean absolute  difference between" },
        { x: 167, y: 1957, size: 66, text: "two climate stations  (°C)" }
    ],
    xLabel: { x: 1043, y: 2820 }
});
drawPanel({
    left: 2118, right: 3573, top: 1462, bottom: 2624, yDomain: [0, 2], yFormat: ".1f",
    yMajor: ratioMajor, yMinor: ratioMinor, yGrid: ratioGrid, showX: true,
    coreDist: coreDistD, coreLow: coreLowD, coreHigh: coreHighD, dots: dotsD,
    tag: "(d)", tagX: 2218, tagY: 2566,
    yLabels: [
        { x: 1870, y: 1994, size: 66, text: "Mean absolute  difference between" },
        { x: 1963, y: 1995, size: 66, text: "two climate stations  (in ratios)" }
    ],
    xLabel: { x: 2871, y: 2832 }
});

svg.append("text").attr("x", 1022).attr("y", 90).attr("text-anchor", "middle")
    .style("font-size", "76px").text("Daily mean air temperature");
svg.append("text").attr("x", 2819).attr("y", 90).attr("text-anchor", "middle")
    .style("font-size", "76px").text("Daily precipitation");
</script>
</body>
</html>
